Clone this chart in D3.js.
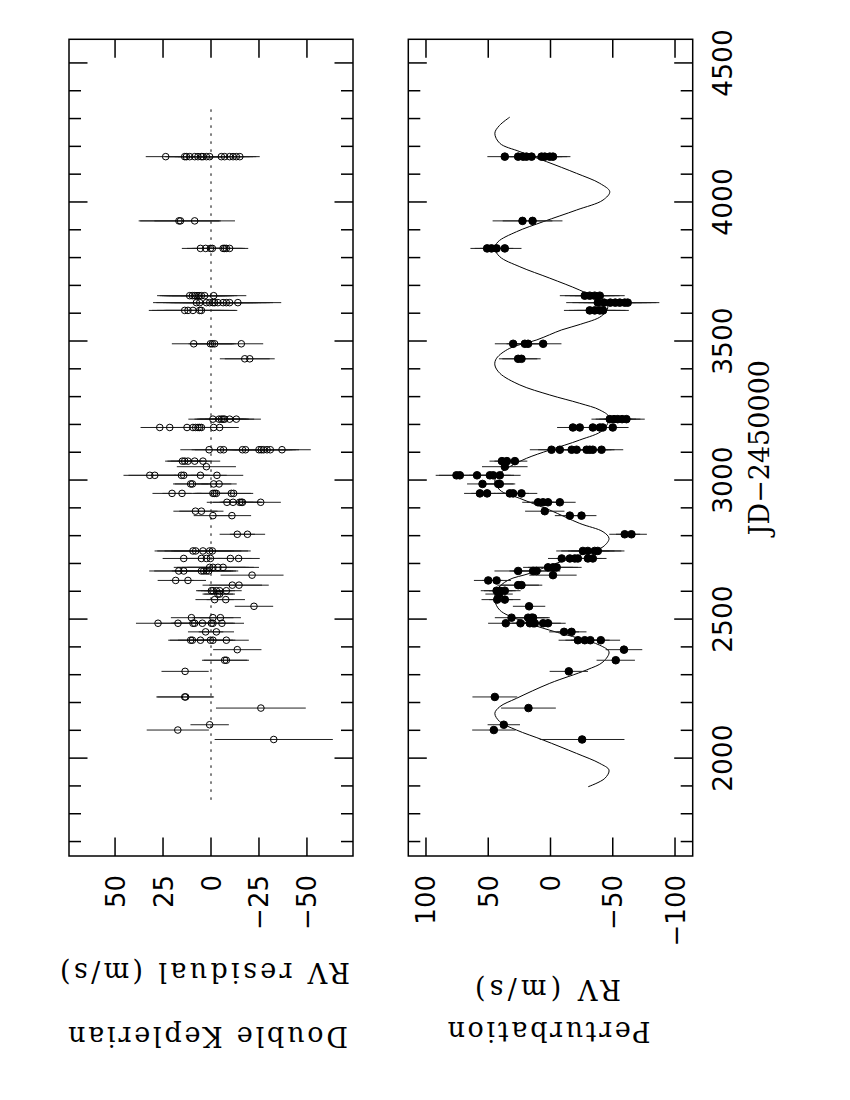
<!DOCTYPE html>
<html>
<head>
<meta charset="utf-8">
<script src="https://cdn.jsdelivr.net/npm/d3@7"></script>
<style>
  body { margin: 0; background: #fff; }
</style>
</head>
<body>
<div id="chart"></div>
<script>
// Fitted perturbation curve (JD-2450000, m/s)
const curveJD = [1897, 1927, 1957, 1981, 2017, 2065, 2101, 2131, 2161, 2185, 2215, 2269,
  2317, 2346, 2382, 2406, 2430, 2460, 2496, 2532, 2568, 2604, 2640, 2664, 2688, 2730,
  2760, 2790, 2814, 2844, 2892, 2934, 2964, 3000, 3024, 3048, 3078, 3108, 3144, 3180,
  3226, 3252, 3276, 3306, 3342, 3384, 3414, 3438, 3474, 3504, 3540, 3560, 3590, 3623,
  3647, 3683, 3726, 3767, 3803, 3833, 3857, 3893, 3929, 3971, 4007, 4037, 4067, 4103,
  4145, 4181, 4211, 4247, 4275, 4305];
const curveRV = [-30.2, -43.6, -47, -39.6, -20.9, 5.9, 27.3, 40.7, 44.7, 40.7, 27.3, 0.6,
  -28.9, -42.2, -47, -39.6, -23.5, 0.6, 24.6, 40.7, 44.7, 43.3, 34, 17, 3.2, -23.5,
  -42.2, -47, -42.2, -23.5, 0.6, 24.6, 40.7, 44.7, 40.7, 32.7, 19.3, 0.6, -23.5, -42.2,
  -47, -39.6, -23.5, 0.6, 24.6, 40.7, 44.7, 43.3, 32.7, 11, -9, -24, -41, -46,
  -39.6, -23.5, 0.6, 24.6, 40.7, 44.7, 42.1, 27.3, 5.9, -20.9, -42.2, -47.6, -39.6, -20.9,
  3.2, 24.6, 40.7, 44.7, 41, 32.7];

// Observing epochs (one row of points per epoch)
const epochJD = [4163, 3932, 3833, 3663, 3638, 3610, 3490, 3436, 3219, 3189, 3109, 3068,
  3048, 3017, 2986, 2952, 2920, 2888, 2872, 2805, 2745, 2718, 2686, 2673, 2658, 2639,
  2622, 2602, 2590, 2570, 2546, 2505, 2485, 2454, 2424, 2390, 2352, 2312, 2220, 2180,
  2120, 2101, 2067];

// Top panel: double Keplerian residuals (m/s) and their errors
const residualRV = [
  [23.6, 13.7, 12.8, 11.1, 8.5, 6.8, 5, 4.2, 2.4, 0.7, -5.4, -7.1, -9.7, -11.5, -13.2, -15],
  [16.7, 15.9, 8.5],
  [5.5, 2.8, 0.3, -0.7, -6.3, -7.1, -8, -9.7],
  [11.1, 9.7, 8.5, 7.3, 6.2, 5, 3.3, -1.4],
  [7.6, 5.9, 2.4, 0.7, -1, -1.9, -3.6, -6.3, -8, -9.7, -14],
  [13.7, 12, 9.4, 5.9, 5],
  [9, 0.3, -0.7, -1.9, -15.8],
  [-17.6, -20.2],
  [-1, -4.2, -5.4, -6.3, -7.1, -9.7, -13.2],
  [26.7, 21.5, 12.5, 9.4, 8, 6.8, 5.9, 5, -1.4, -4.5],
  [1, -4.9, -6.6, -16.4, -18, -25, -26.2, -27.4, -29.2, -30.9, -37],
  [14.9, 13.7, 12, 8.5, 4.2],
  [2.4],
  [31.9, 29.3, 15.4, 14.2, 5.5, -3.1],
  [10.6, 9.7, -1.4, -4.2],
  [20.3, 15.1, -1, -1.9, -2.8, -10.6, -11.8],
  [-8.3, -11.5, -14.9, -15.8, -16.4, -25.9],
  [8.1, 5],
  [-1, -10.9],
  [-13.7, -19],
  [9.4, 8, 4.2, 0.7, -0.7],
  [14.2, 5, 2.4, 0.3, -10.1, -14.4],
  [0.7, -1, -3.6, -6.3],
  [16.8, 14.2, 5, 3.8, 2.4, 1.2],
  [-21.4],
  [18.4, 12],
  [-11.1, -14.6],
  [-0.2, -1, -2.8, -4.5, -8],
  [-3.6, -4.5],
  [-1.9, -7.7],
  [-22.4],
  [10.2, -1, -4.9],
  [27.6, 17.2, 9.4, 8.5, 4.5, -0.2, -1, -5.7],
  [2.8, -2.8],
  [10.6, 9.7, 5.5, 0.3, -1, -8],
  [-13.7],
  [-7.1, -8],
  [13.5],
  [13.7, 13.2],
  [-26],
  [0.7],
  [17.3],
  [-32.7],
];
const residualErr = [10.4, 21, 9.7, 17, 22.6, 18.7, 11.4, 13, 12.8, 10, 15, 9, 15.4, 13.7,
  9.2, 10.2, 10.5, 11.5, 10, 9.2, 20, 11, 18.7, 15.4, 16.4, 9.4, 15.5, 8, 8, 10, 10, 10.7,
  11.5, 9.2, 11.7, 12.6, 11.8, 12.3, 14.8, 23.4, 10, 16.2, 30.8];

// Bottom panel: perturbation RV (m/s) and their errors
const perturbRV = [
  [36.7, 26, 22, 19.3, 15.2, 7.2, 4.6, 0.6, -2],
  [22.5, 14.4],
  [50.9, 47.4, 43.3, 36.7],
  [-27.5, -31.5, -35.5, -39.6],
  [-38, -43, -48, -52, -55.6, -59.6, -62],
  [-31.5, -35.5, -39.6, -42.2],
  [30, 20.6, 18, 5.9],
  [26, 23.3],
  [-47.6, -51, -54, -57.5, -61],
  [-18, -23.5, -34, -39.6, -42, -50],
  [-0.8, -7.5, -17, -21, -29, -31.5, -34, -41],
  [39, 35, 28.6],
  [36.7],
  [75.5, 72.8, 59, 48.7, 46, 40.7],
  [54.6, 42, 40.7],
  [56.7, 50.9, 32.7, 30, 23.3],
  [10, 6, 2, -7.5],
  [4.6],
  [-15.5, -24.9],
  [-59.6, -65],
  [-26, -30, -35.5, -38],
  [-9, -15.5, -19.5, -22, -30, -34],
  [2, -2, -5],
  [26, 14, 11.2],
  [-2],
  [50, 43.3],
  [26, 23.3],
  [43.3, 40.7, 36.7],
  [41.3],
  [42.8, 36.7],
  [17.2],
  [31.3, 18, 15.2, 14],
  [35.9, 24.1, 16.6, 14, 12.6, 5.9, 2],
  [-10.9, -16.9],
  [-22, -27.5, -32, -40.4],
  [-59],
  [-52.4],
  [-14.7],
  [44.7],
  [17.7],
  [37.5],
  [45.5],
  [-25.4],
];
const perturbErr = [14, 24, 13.4, 20, 25.4, 20.7, 14.7, 15.4, 14.7, 12.7, 17.4, 10, 18.3,
  16.7, 12.4, 12.7, 12.7, 15.8, 12, 12.4, 21.4, 11, 20, 19, 19, 11.5, 16.7, 12.7, 11, 12.6,
  13, 13.4, 14.2, 12, 15.5, 14.7, 15.4, 15.4, 18, 22, 13, 17.4, 34];

const jdMajorTicks = [2000, 2500, 3000, 3500, 4000, 4500];
const jdMinorTicks = d3.range(1700, 4600, 100);
const residualTicks = [50, 25, 0, -25, -50];
const perturbTicks = [100, 50, 0, -50, -100];

const W = 850, H = 1100;
const svg = d3.select('#chart').append('svg')
  .attr('width', W).attr('height', H)
  .style('display', 'block');

// The plot is laid out in landscape and turned a quarter turn anticlockwise:
// inside g, horizontal = JD axis, vertical = RV axis.
const g = svg.append('g').attr('transform', `translate(0,${H}) rotate(-90)`);

const x = d3.scaleLinear().domain([1648, 4585]).range([244, 1060.7]);

const panels = [
  {
    y: d3.scaleLinear().domain([-74, 74]).range([353, 69]),
    ticks: residualTicks,
    rows: residualRV, err: residualErr, filled: false,
    title: ['Double Keplerian', 'RV residual (m/s)'],
    titlePos: [[73.3, 208, 280], [137, 205, 290]],
  },
  {
    y: d3.scaleLinear().domain([-114.2, 114.2]).range([692.7, 408.3]),
    ticks: perturbTicks,
    rows: perturbRV, err: perturbErr, filled: true,
    title: ['Perturbation', 'RV (m/s)'],
    titlePos: [[78.3, 549, 203], [120, 548, 146]],
  },
];

const fmt = (d) => (d < 0 ? '\u2212' + Math.abs(d) : String(d));
const [u0, u1] = x.range();

panels.forEach((p, pi) => {
  const y = p.y;
  const [v1, v0] = y.range(); // v0 = top edge (positive end), v1 = bottom edge
  const pg = g.append('g');

  // frame
  pg.append('rect')
    .attr('x', u0).attr('y', v0)
    .attr('width', u1 - u0).attr('height', v1 - v0)
    .attr('fill', 'none').attr('stroke', '#000').attr('stroke-width', 1.5);

  // JD ticks on both long edges, pointing inward
  const tickLen = (t) => (jdMajorTicks.includes(t) ? 18.5 : 12);
  pg.selectAll('.jdtick')
    .data(jdMinorTicks.flatMap((t) => [{ t, edge: v0, dir: 1 }, { t, edge: v1, dir: -1 }]))
    .enter().append('line')
    .attr('x1', (d) => x(d.t)).attr('x2', (d) => x(d.t))
    .attr('y1', (d) => d.edge).attr('y2', (d) => d.edge + d.dir * tickLen(d.t))
    .attr('stroke', '#000').attr('stroke-width', 1.5);

  // RV ticks on both short edges
  pg.selectAll('.rvtick')
    .data(p.ticks.flatMap((t) => [{ t, edge: u0, dir: 1 }, { t, edge: u1, dir: -1 }]))
    .enter().append('line')
    .attr('x1', (d) => d.edge).attr('x2', (d) => d.edge + d.dir * 18.5)
    .attr('y1', (d) => y(d.t)).attr('y2', (d) => y(d.t))
    .attr('stroke', '#000').attr('stroke-width', 1.5);

  // RV tick labels
  pg.selectAll('.rvlabel')
    .data(p.ticks)
    .enter().append('text')
    .attr('x', u0 - 19)
    .attr('y', (d) => y(d) + 9.5)
    .attr('text-anchor', 'end')
    .attr('font-family', 'DejaVu Sans')
    .attr('font-size', 26)
    .text(fmt);

  // axis titles (two lines, rotated like a y-axis label)
  p.title.forEach((line, li) => {
    const [tu, tv, len] = p.titlePos[li];
    pg.append('text')
      .attr('transform', `translate(${tu},${tv}) rotate(-90)`)
      .attr('text-anchor', 'middle')
      .attr('font-family', 'DejaVu Serif')
      .attr('font-size', 27)
      .attr('textLength', len)
      .attr('lengthAdjust', 'spacing')
      .text(line);
  });

  if (pi === 0) {
    // zero reference line
    pg.append('line')
      .attr('x1', x(1850)).attr('x2', x(4350))
      .attr('y1', y(0)).attr('y2', y(0))
      .attr('stroke', '#000').attr('stroke-width', 1)
      .attr('stroke-dasharray', '2.5,5.5');
  } else {
    // JD tick labels and title under the lower panel
    pg.selectAll('.jdlabel')
      .data(jdMajorTicks)
      .enter().append('text')
      .attr('x', (d) => x(d))
      .attr('y', 731.7)
      .attr('text-anchor', 'middle')
      .attr('font-family', 'DejaVu Sans')
      .attr('font-size', 26.5)
      .text((d) => d);

    pg.append('text')
      .attr('x', (u0 + u1) / 2)
      .attr('y', 769)
      .attr('text-anchor', 'middle')
      .attr('font-family', 'DejaVu Serif')
      .attr('font-size', 27)
      .text('JD\u22122450000');

    // fitted perturbation curve
    const line = d3.line()
      .x((d, i) => x(curveJD[i]))
      .y((d) => y(d))
      .curve(d3.curveCatmullRom);
    pg.append('path')
      .datum(curveRV)
      .attr('d', line)
      .attr('fill', 'none')
      .attr('stroke', '#000')
      .attr('stroke-width', 1);
  }

  const pts = epochJD.flatMap((jd, i) => p.rows[i].map((v) => ({ jd, v, e: p.err[i] })));

  // error bars
  pg.selectAll('.err')
    .data(pts)
    .enter().append('line')
    .attr('x1', (d) => x(d.jd)).attr('x2', (d) => x(d.jd))
    .attr('y1', (d) => y(d.v - d.e)).attr('y2', (d) => y(d.v + d.e))
    .attr('stroke', '#222').attr('stroke-width', 1);

  // points
  pg.selectAll('.pt')
    .data(pts)
    .enter().append('circle')
    .attr('cx', (d) => x(d.jd))
    .attr('cy', (d) => y(d.v))
    .attr('r', p.filled ? 3.8 : 3.3)
    .attr('fill', p.filled ? '#000' : 'none')
    .attr('stroke', '#000')
    .attr('stroke-width', 1);
});
</script>
</body>
</html>
